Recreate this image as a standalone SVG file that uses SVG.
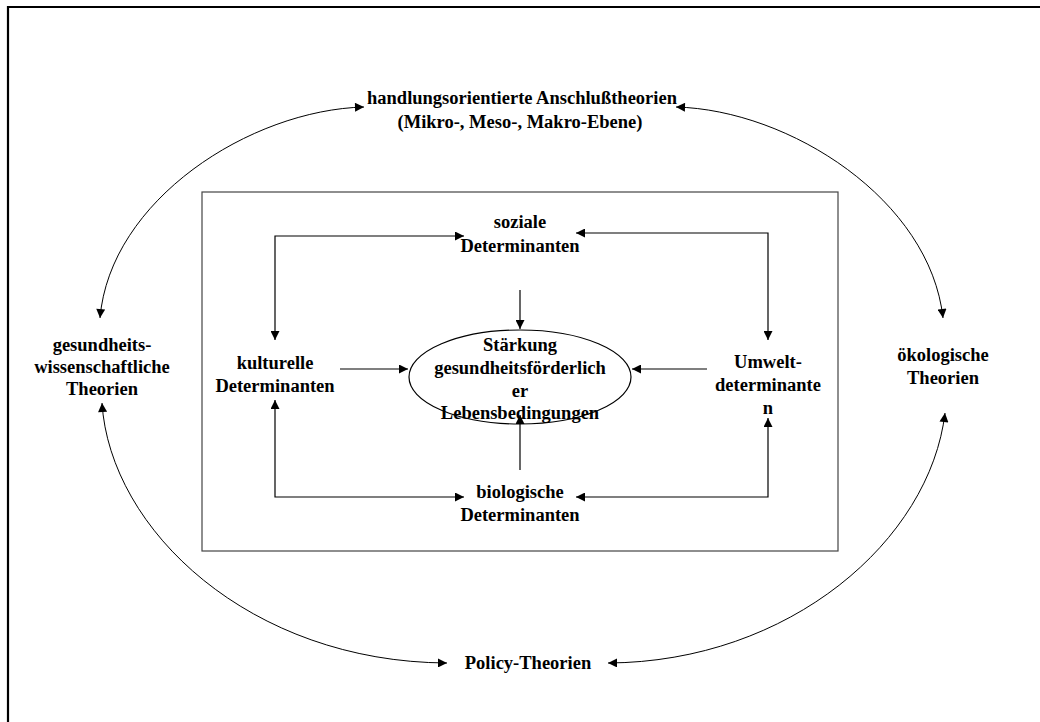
<svg xmlns="http://www.w3.org/2000/svg" width="1040" height="722" viewBox="0 0 1040 722">
<style>
text{font-family:"Liberation Serif","Times New Roman",serif;font-weight:bold;font-size:18.5px;fill:#000;text-anchor:middle}
.c{fill:none;stroke:#000;stroke-width:1.2}
.o{fill:none;stroke:#000;stroke-width:1}
</style>
<defs>
<marker id="a" viewBox="0 0 10 10" refX="10" refY="5" markerWidth="10" markerHeight="9" markerUnits="userSpaceOnUse" orient="auto-start-reverse">
<path d="M0,0 L10,5 L0,10 z" fill="#000"/>
</marker>
</defs>
<rect width="1040" height="722" fill="#fff"/>
<g id="frame">
<path d="M8,722 V7 H1040" fill="none" stroke="#000" stroke-width="2.2"/>
<rect x="202" y="192" width="636" height="359" fill="none" stroke="#444" stroke-width="1.2"/>
</g>
<g id="n-handlung"><text x="522" y="104">handlungsorientierte Anschlußtheorien</text><text x="520" y="128">(Mikro-, Meso-, Makro-Ebene)</text></g>
<g id="n-gesund"><text x="102" y="351">gesundheits-</text><text x="102" y="373">wissenschaftliche</text><text x="102" y="395">Theorien</text></g>
<g id="n-oeko"><text x="943" y="361">ökologische</text><text x="943" y="384">Theorien</text></g>
<g id="n-policy"><text x="528" y="669">Policy-Theorien</text></g>
<g id="n-sozial"><text x="520" y="228">soziale</text><text x="520" y="252">Determinanten</text></g>
<g id="n-kultur"><text x="275" y="369">kulturelle</text><text x="275" y="392">Determinanten</text></g>
<g id="n-umwelt"><text x="768" y="368">Umwelt-</text><text x="768" y="391">determinante</text><text x="768" y="414">n</text></g>
<g id="n-bio"><text x="520" y="498">biologische</text><text x="520" y="521">Determinanten</text></g>
<g id="n-center"><ellipse cx="520" cy="377" rx="111" ry="47" fill="none" stroke="#000" stroke-width="1.2"/><text x="520" y="351">Stärkung</text><text x="520" y="374">gesundheitsförderlich</text><text x="520" y="397">er</text><text x="520" y="419">Lebensbedingungen</text></g>
<g id="connectors">
<path class="c" d="M275,340 V236 H464" marker-start="url(#a)" marker-end="url(#a)"/>
<path class="c" d="M576,233 H768 V340" marker-start="url(#a)" marker-end="url(#a)"/>
<path class="c" d="M520,290 V329" marker-end="url(#a)"/>
<path class="c" d="M340,369 H408" marker-end="url(#a)"/>
<path class="c" d="M707,369 H632" marker-end="url(#a)"/>
<path class="c" d="M520,470 V415" marker-end="url(#a)"/>
<path class="c" d="M275,400 V497 H464" marker-start="url(#a)" marker-end="url(#a)"/>
<path class="c" d="M768,418 V497 H576" marker-start="url(#a)" marker-end="url(#a)"/>
<path class="o" d="M364,107 C250,110 110,200 100,318" marker-start="url(#a)" marker-end="url(#a)"/>
<path class="o" d="M676,107 C790,110 930,200 943,318" marker-start="url(#a)" marker-end="url(#a)"/>
<path class="o" d="M102,403 C110,530 250,662 447,663" marker-start="url(#a)" marker-end="url(#a)"/>
<path class="o" d="M945,413 C930,540 790,662 608,663" marker-start="url(#a)" marker-end="url(#a)"/>
</g>
</svg>
